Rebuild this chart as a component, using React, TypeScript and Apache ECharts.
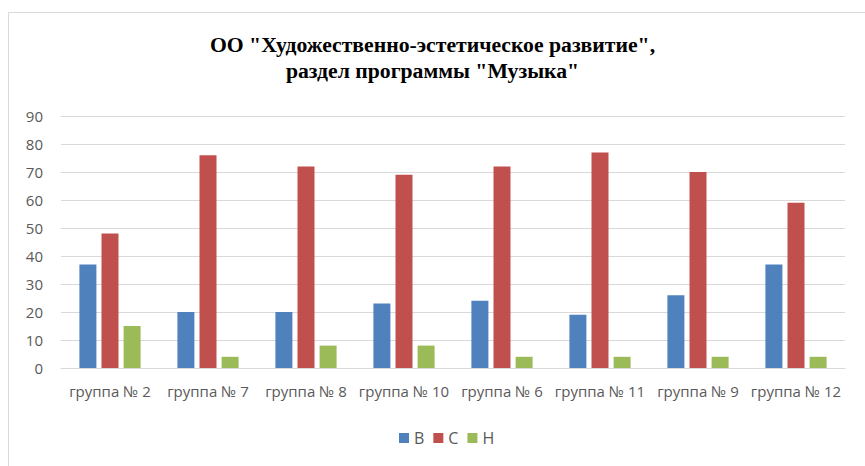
import React, { useEffect, useRef } from "react";
import * as echarts from "echarts";

const categories = ["группа № 2", "группа № 7", "группа № 8", "группа № 10", "группа № 6", "группа № 11", "группа № 9", "группа № 12"];
const seriesB = [37, 20, 20, 23, 24, 19, 26, 37];
const seriesC = [48, 76, 72, 69, 72, 77, 70, 59];
const seriesH = [15, 4, 8, 8, 4, 4, 4, 4];
const seriesNames = ["В", "С", "Н"];
const colors = ["#4F81BD", "#C0504D", "#9BBB59"];
const titleLines = ["ОО \"Художественно-эстетическое развитие\",", "раздел программы \"Музыка\""];

export default function App() {
  const ref = useRef<HTMLDivElement>(null);
  useEffect(() => {
    if (!ref.current) return;
    const chart = echarts.init(ref.current, null, { renderer: "svg" });
    const font = "'Open Sans', 'Noto Sans', sans-serif";
    const mk = (name: string, data: number[], color: string) => ({
      name,
      type: "bar",
      data,
      barWidth: 17,
      barGap: "30%",
      itemStyle: { color },
    });
    chart.setOption({
      animation: false,
      backgroundColor: "#fff",
      color: colors,
      graphic: [
        {
          type: "rect",
          shape: { x: 8.5, y: 12.5, width: 900, height: 500 },
          style: { fill: "none", stroke: "#d9d9d9", lineWidth: 1 },
          silent: true,
          z: -1,
        },
      ],
      title: {
        text: titleLines.join("\n"),
        left: "center",
        top: 32,
        padding: [0, 0, 0, 14],
        textStyle: {
          fontFamily: "'Liberation Serif', 'DejaVu Serif', serif",
          fontWeight: "bold",
          fontSize: 21.7,
          lineHeight: 26,
          color: "#000",
        },
      },
      legend: {
        top: 425,
        left: 399,
        padding: [5, 0, 5, 0],
        itemWidth: 10,
        itemHeight: 10,
        itemGap: 9,
        icon: "rect",
        textStyle: { fontFamily: font, fontSize: 16, color: "#595959" },
        data: seriesNames,
      },
      grid: { left: 61, right: 20, top: 116, bottom: 98, containLabel: false },
      xAxis: {
        type: "category",
        data: categories,
        axisTick: { show: false },
        axisLine: { lineStyle: { color: "#d9d9d9" } },
        axisLabel: { fontFamily: font, fontSize: 15, color: "#595959", margin: 15, interval: 0 },
      },
      yAxis: {
        type: "value",
        min: 0,
        max: 90,
        interval: 10,
        axisLine: { show: false },
        axisTick: { show: false },
        splitLine: { lineStyle: { color: "#d9d9d9" } },
        axisLabel: { fontFamily: font, fontSize: 15, color: "#595959", margin: 18 },
      },
      series: [mk(seriesNames[0], seriesB, colors[0]), mk(seriesNames[1], seriesC, colors[1]), mk(seriesNames[2], seriesH, colors[2])],
    });
    return () => chart.dispose();
  }, []);
  return <div ref={ref} style={{ position: "fixed", left: 0, top: 0, width: 865, height: 466 }} />;
}
